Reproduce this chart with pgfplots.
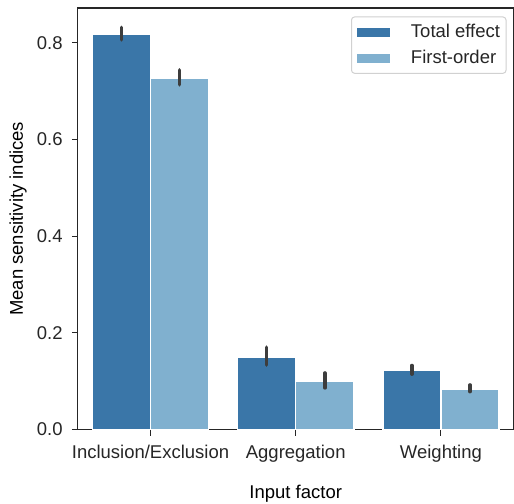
\documentclass[border=0pt]{standalone}
\usepackage{fontspec}
\setmainfont{Liberation Sans}
\usepackage{pgfplots}
\pgfplotsset{compat=1.18}
\definecolor{dk}{HTML}{3A76A8}
\definecolor{lt}{HTML}{80B0CF}
\definecolor{txt}{HTML}{262626}
\definecolor{errc}{HTML}{3D3D3D}
\begin{document}
\fontsize{18.5}{22}\selectfont
\begin{tikzpicture}
\begin{axis}[
  name=ax,
  scale only axis,
  width=436pt, height=422pt,
  xmin=-0.5, xmax=2.5,
  ymin=0, ymax=0.872,
  xtick={0,1,2},
  xticklabels={Inclusion/Exclusion,Aggregation,Weighting},
  ytick={0,0.2,0.4,0.6,0.8},
  yticklabel style={/pgf/number format/fixed,/pgf/number format/fixed zerofill,/pgf/number format/precision=1, xshift=-3pt},
  xticklabel style={yshift=-3pt},
  /pgf/number format/assume math mode=true,
  tick align=outside,
  major tick length=6pt,
  xtick pos=bottom, ytick pos=left,
  axis line style={txt, line width=1.1pt},
  tick style={txt, line width=1.1pt},
  every tick label/.append style={txt, font=\fontsize{18.5}{22}\selectfont},
  label style={txt, font=\fontsize{18.5}{22}\selectfont},
  xlabel={Input factor},
  ylabel={Mean sensitivity indices},
  every axis y label/.style={at={(axis description cs:0,0.5)}, xshift=-60pt, rotate=90, anchor=center},
  every axis x label/.style={at={(axis description cs:0.5,0)}, anchor=center, yshift=-64pt},
  legend style={at={(axis description cs:1,1)}, anchor=north east, xshift=-7pt, yshift=-8.5pt,
     draw=black!18, line width=1pt, rounded corners=3pt, fill=white,
     font=\fontsize{18.5}{22}\selectfont, text=txt, row sep=6pt,
     inner xsep=4pt, inner ysep=5pt,
     /tikz/every odd column/.append style={column sep=17pt}},
  legend cell align=left,
  legend image code/.code={\fill[#1, sharp corners] (0pt,-5.3pt) rectangle (35pt,5.3pt);},
]
\addplot[ybar, bar width=0.4, bar shift=0, fill=dk, draw=white, line width=1.5pt,
  error bars/.cd, y dir=both, y explicit, error mark=none,
  error bar style={errc, line width=3.5pt, line cap=round}]
  coordinates {
  (-0.2,0.818) += (0,0.014) -= (0,0.012)
  (0.8,0.1495) += (0,0.021) -= (0,0.016)
  (1.8,0.1226) += (0,0.010) -= (0,0.008)
  };
\addlegendentry{Total effect}
\addplot[ybar, bar width=0.4, bar shift=0, fill=lt, draw=white, line width=1.5pt,
  error bars/.cd, y dir=both, y explicit, error mark=none,
  error bar style={errc, line width=3.5pt, line cap=round}]
  coordinates {
  (0.2,0.727) += (0,0.017) -= (0,0.014)
  (1.2,0.0992) += (0,0.018) -= (0,0.013)
  (2.2,0.0834) += (0,0.009) -= (0,0.005)
  };
\addlegendentry{First-order}
\end{axis}
\pgfresetboundingbox
\path ([shift={(-78pt,-74pt)}]ax.south west) rectangle ([shift={(0.5pt,8pt)}]ax.north east);
\end{tikzpicture}
\end{document}
